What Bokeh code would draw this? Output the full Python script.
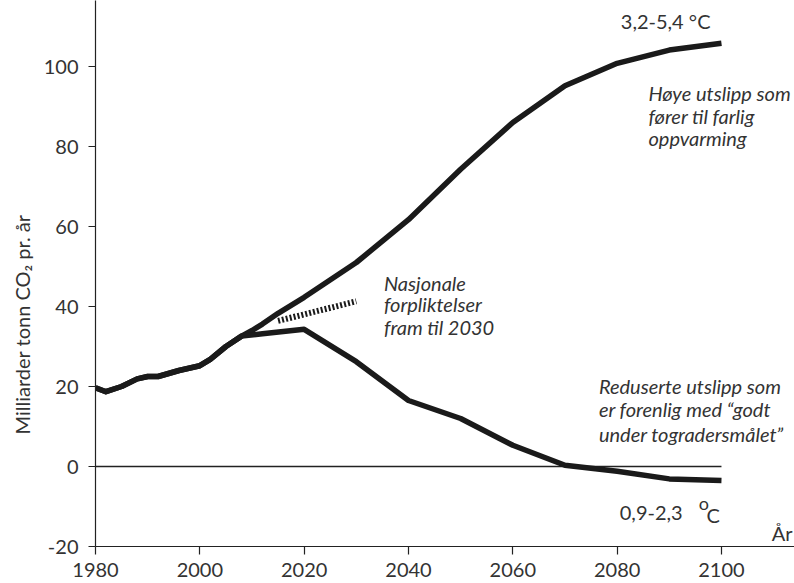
from math import pi
from bokeh.plotting import figure
from bokeh.models import FixedTicker, Label, Range1d, Title
from bokeh.embed import file_html
from bokeh.resources import INLINE

# ---- data ----
hist_years = [1980, 1982, 1985, 1988, 1990, 1992, 1996, 2000, 2002, 2005, 2008]
hist_values = [19.7, 18.7, 20.0, 21.9, 22.5, 22.5, 24.0, 25.2, 26.8, 30.0, 32.6]

high_years = [2008, 2010, 2012, 2015, 2020, 2030, 2040, 2050, 2060, 2070, 2080, 2090, 2100]
high_values = [32.6, 34.0, 35.6, 38.3, 42.3, 51.0, 61.7, 74.3, 86.0, 95.2, 100.8, 104.1, 105.8]

low_years = [2008, 2012, 2020, 2030, 2040, 2050, 2060, 2070, 2080, 2090, 2100]
low_values = [32.6, 33.2, 34.3, 26.2, 16.5, 12.0, 5.3, 0.3, -1.2, -3.1, -3.5]

ndc_years = [2015, 2030]
ndc_values = [36.4, 41.3]

zero_years = [1980, 2100]
zero_values = [0, 0]

x_ticks = [1980, 2000, 2020, 2040, 2060, 2080, 2100]
y_ticks = [-20, 0, 20, 40, 60, 80, 100]
y_tick_labels = ["-20", "0", "20", "40", "60", "80", "100"]

FONT = "Lato"
TXT = "#333333"
LINE = "#1a1a1a"

p = figure(width=794, height=583, output_backend="svg", toolbar_location=None,
           x_range=Range1d(1980, 2114.0), y_range=Range1d(-20, 116.5),
           min_border_left=94, min_border_right=0, min_border_top=0, min_border_bottom=37)
p.outline_line_color = None
p.xgrid.grid_line_color = None
p.ygrid.grid_line_color = None
p.background_fill_color = "white"

for ax in (p.xaxis, p.yaxis):
    ax.axis_line_color = "#222222"
    ax.axis_line_width = 1.2
    ax.major_tick_line_color = "#222222"
    ax.major_tick_line_width = 1.2
    ax.major_tick_in = 0
    ax.minor_tick_line_color = None
    ax.major_label_text_font = FONT
    ax.major_label_text_font_size = "20px"
    ax.major_label_text_color = TXT

p.xaxis.ticker = FixedTicker(ticks=x_ticks)
p.yaxis.ticker = FixedTicker(ticks=y_ticks)
p.yaxis.major_label_overrides = {t: s for t, s in zip(y_ticks, y_tick_labels)}
p.xaxis.major_tick_out = 8
p.yaxis.major_tick_out = 7
p.xaxis.major_label_standoff = 8
p.yaxis.major_label_standoff = 10

# y axis title, shifted down along the axis like in the reference
p.add_layout(Title(text="Milliarder tonn CO\u2082 pr. år", align="left", offset=112,
                   text_font=FONT, text_font_size="20px", text_font_style="normal",
                   text_color=TXT, standoff=14), "left")

# zero reference line
p.line(zero_years, zero_values, line_color="#222222", line_width=1.3)

# scenario lines
hy = hist_years + high_years[1:]
hv = hist_values + high_values[1:]
ly = hist_years + low_years[1:]
lv = hist_values + low_values[1:]
p.line(hy, hv, line_color=LINE, line_width=5.5, line_join="round")
p.line(ly, lv, line_color=LINE, line_width=5.5, line_join="round")
p.line(ndc_years, ndc_values, line_color=LINE, line_width=6, line_dash="2 2", line_cap="butt")

def lab(x, y, text, italic=True, size="20px", align="left", angle=0.0):
    p.add_layout(Label(x=x, y=y, text=text, text_font=FONT, text_font_size=size,
                       text_font_style="italic" if italic else "normal",
                       text_color=TXT, text_align=align, text_baseline="middle",
                       angle=angle))

# annotations
lab(2089.3, 111.5, "3,2-5,4 °C", italic=False, align="center")
lab(2086.0, 93.5, "Høye utslipp som")
lab(2086.0, 87.7, "fører til farlig")
lab(2086.0, 82.2, "oppvarming")

lab(2035.3, 46.0, "Nasjonale")
lab(2035.3, 40.7, "forpliktelser")
lab(2035.3, 34.8, "fram til 2030")

lab(2076.5, 20.2, "Reduserte utslipp som")
lab(2076.5, 14.5, "er forenlig med \u201cgodt")
lab(2076.5, 8.2, "under togradersmålet\u201d")

lab(2080.5, -11.5, "0,9-2,3", italic=False)
lab(2096.6, -9.0, "o", italic=False, size="18px", align="center")
lab(2098.4, -12.2, "C", italic=False, align="center")

lab(2113.6, -16.5, "År", italic=False, align="right")

open("out.html", "w").write(file_html(p, INLINE))
